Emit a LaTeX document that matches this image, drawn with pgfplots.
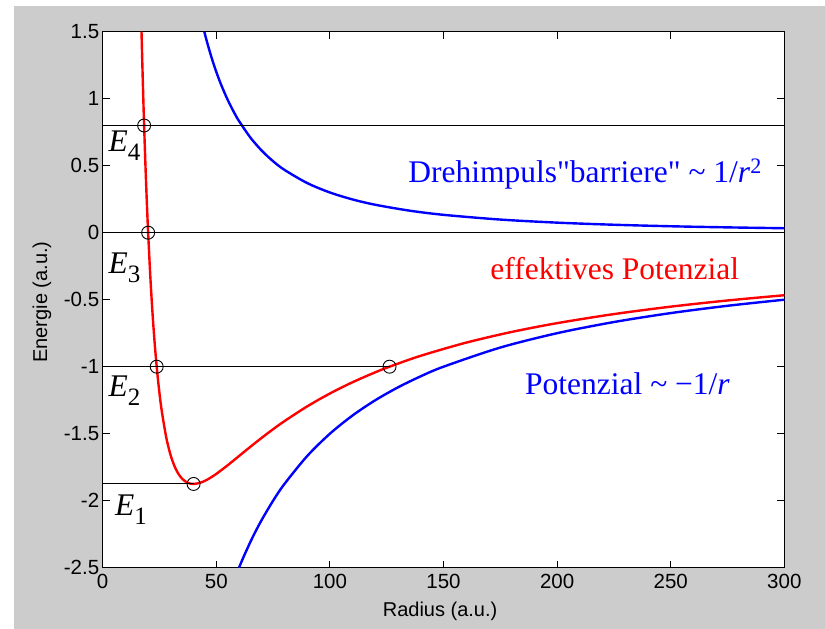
\documentclass[border=0pt]{standalone}
\usepackage{pgfplots}
\pgfplotsset{compat=1.18}
\usepackage{fontspec}
\setmainfont{Liberation Serif}
\setsansfont{Liberation Sans}
\definecolor{figgray}{HTML}{CCCCCC}
\begin{document}
\begin{tikzpicture}[x=1bp,y=1bp]
\fill[white] (-102.7,-61.3) rectangle (722.3,567.7);
\fill[figgray] (-88.7,-61.3) rectangle (722.3,561.7);
\begin{axis}[at={(0,0)}, anchor=south west, scale only axis,
  width=681.6bp, height=536bp,
  xmin=0, xmax=300, ymin=-2.5, ymax=1.5,
  axis background/.style={fill=white},
  axis line style={black, line width=1.2bp},
  tick align=inside, major tick length=7bp,
  every tick/.style={black, line width=1bp},
  xtick={0,50,100,150,200,250,300},
  xticklabels={0,50,100,150,200,250,300},
  ytick={-2.5,-2,-1.5,-1,-0.5,0,0.5,1,1.5},
  yticklabels={-2.5,-2,-1.5,-1,-0.5,0,0.5,1,1.5},
  ticklabel style={font=\fontsize{20.5bp}{24bp}\sffamily},
  xticklabel style={yshift=-3bp},
  xlabel={Radius (a.u.)},
  ylabel={Energie (a.u.)},
  label style={font=\fontsize{20bp}{24bp}\sffamily},
  xlabel style={at={(axis description cs:0.495,0)}, anchor=base, yshift=-49.3bp},
  ylabel style={at={([xshift=-60.7bp]axis description cs:0,0.4957)}, anchor=center},
  clip=true,
]
% Drehimpulsbarriere ~ 1/r^2
\addplot[blue, line width=2.4bp, smooth] coordinates {
(44.72,1.5)(46,1.4178)(48,1.3021)(50,1.2)(52,1.1095)(55,0.9917)(58,0.8918)(60,0.8333)
(65,0.7101)(70,0.6122)(75,0.5333)(80,0.4688)(90,0.3704)(100,0.3)(110,0.2479)(120,0.2083)
(135,0.1646)(150,0.1333)(175,0.0980)(200,0.075)(225,0.0593)(250,0.048)(275,0.0397)(300,0.0333)};
% Potenzial ~ -1/r
\addplot[blue, line width=2.4bp, smooth] coordinates {
(60,-2.5)(62,-2.4194)(65,-2.3077)(67,-2.2388)(70,-2.1429)(75,-2.0)(80,-1.875)(90,-1.6667)
(100,-1.5)(110,-1.3636)(120,-1.25)(130,-1.1538)(140,-1.0714)(150,-1.0)(175,-0.8571)
(200,-0.75)(225,-0.6667)(250,-0.6)(275,-0.5455)(300,-0.5)};
% effektives Potenzial
\addplot[red, line width=2.4bp, smooth] coordinates {
(17.08,1.5)(17.5,1.2245)(18,0.9259)(18.5,0.6574)(19,0.4155)(19.5,0.1972)(20,0)
(21,-0.3401)(22,-0.6198)(23,-0.8507)(24,-1.0417)(25,-1.2)(26,-1.3314)(28,-1.5306)
(30,-1.6667)(32,-1.7578)(34,-1.8166)(36,-1.8519)(38,-1.8698)(40,-1.875)(43,-1.8659)
(46,-1.8431)(50,-1.8)(55,-1.7356)(60,-1.6667)(65,-1.5976)(70,-1.5307)(75,-1.4667)
(80,-1.4062)(90,-1.2963)(100,-1.2)(110,-1.1157)(120,-1.0417)(126.24,-1)(140,-0.9184)
(160,-0.8203)(180,-0.7407)(200,-0.675)(225,-0.6074)(250,-0.552)(275,-0.5058)(300,-0.4667)};
% energy levels
\addplot[black, line width=1bp] coordinates {(0,0.8)(300,0.8)};
\addplot[black, line width=1bp] coordinates {(0,0)(300,0)};
\addplot[black, line width=1bp] coordinates {(0,-1)(126.24,-1)};
\addplot[black, line width=1bp] coordinates {(0,-1.875)(40,-1.875)};
% turning points
\addplot[only marks, mark=o, mark size=6.5bp, black, mark options={line width=0.9bp}] coordinates {
(18.24,0.8)(20,0)(23.76,-1)(126.24,-1)(40,-1.875)};
% labels
\tikzset{lbl/.style={font=\fontsize{31.5bp}{36bp}\selectfont, inner sep=0pt}}
\node[lbl, anchor=base east, text=blue] at (axis cs:290.2,0.373) {Drehimpuls\textquotedbl barriere\textquotedbl{} \textasciitilde{} 1/\textit{r}\textsuperscript{2}};
\node[lbl, anchor=base east, text=red] at (axis cs:280.2,-0.348) {effektives Potenzial};
\node[lbl, anchor=base east, text=blue] at (axis cs:276.1,-1.204) {Potenzial \textasciitilde{} −1/\textit{r}};
\node[lbl, anchor=base west] at (axis cs:2.5,0.604) {\textit{E}\raisebox{-9bp}{\fontsize{25bp}{30bp}\selectfont 4}};
\node[lbl, anchor=base west] at (axis cs:2.5,-0.308) {\textit{E}\raisebox{-9bp}{\fontsize{25bp}{30bp}\selectfont 3}};
\node[lbl, anchor=base west] at (axis cs:2.5,-1.219) {\textit{E}\raisebox{-9bp}{\fontsize{25bp}{30bp}\selectfont 2}};
\node[lbl, anchor=base west] at (axis cs:5.4,-2.114) {\textit{E}\raisebox{-9bp}{\fontsize{25bp}{30bp}\selectfont 1}};
\end{axis}
\end{tikzpicture}
\end{document}
